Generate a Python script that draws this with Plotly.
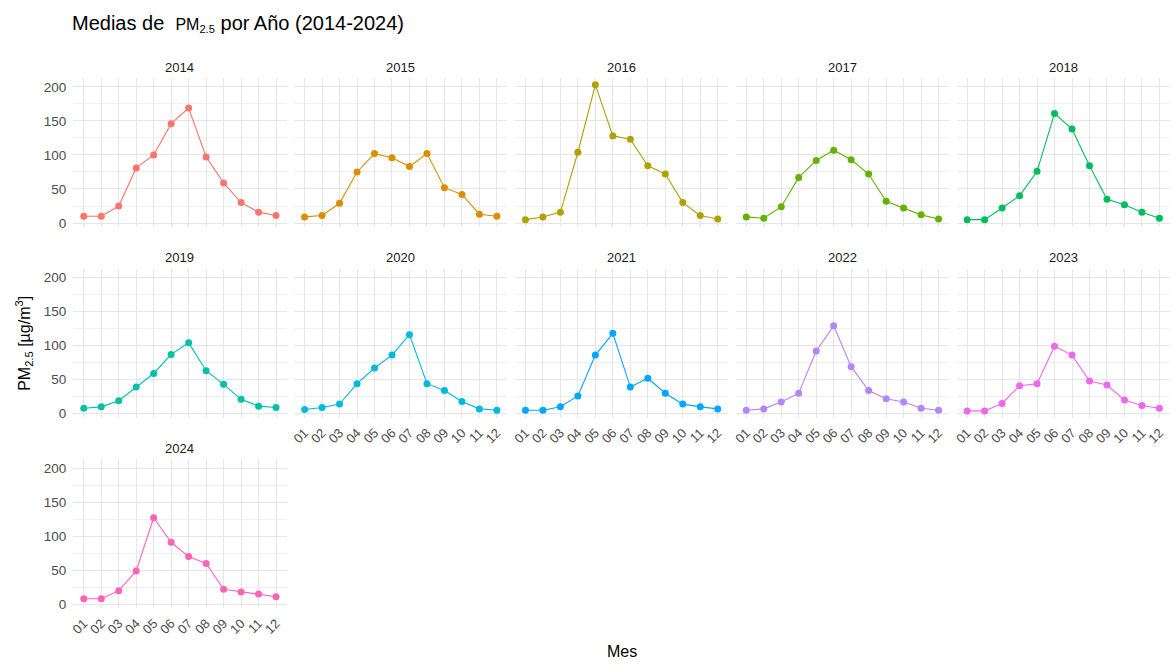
import plotly.graph_objects as go

years = ["2014", "2015", "2016", "2017", "2018", "2019", "2020", "2021", "2022", "2023", "2024"]
months = [1, 2, 3, 4, 5, 6, 7, 8, 9, 10, 11, 12]
month_labels = ["01", "02", "03", "04", "05", "06", "07", "08", "09", "10", "11", "12"]

pm_2014 = [10, 10, 25, 81, 100, 146, 169, 97, 59, 30, 16, 11]
pm_2015 = [9, 11, 29, 75, 102, 96, 83, 102, 52, 42, 13, 10]
pm_2016 = [5, 9, 16, 104, 203, 128, 123, 84, 72, 30, 11, 6]
pm_2017 = [9, 7, 24, 67, 92, 107, 93, 72, 32, 22, 12, 6]
pm_2018 = [5, 5, 22, 40, 76, 161, 138, 84, 35, 27, 16, 7]
pm_2019 = [8, 10, 19, 39, 59, 87, 104, 63, 43, 21, 11, 9]
pm_2020 = [6, 9, 14, 44, 67, 86, 116, 44, 34, 18, 7, 5]
pm_2021 = [5, 5, 10, 26, 86, 118, 39, 52, 30, 14, 10, 7]
pm_2022 = [5, 7, 17, 30, 92, 129, 69, 34, 22, 17, 8, 5]
pm_2023 = [4, 4, 15, 41, 44, 99, 86, 48, 42, 20, 12, 8]
pm_2024 = [8, 8, 20, 49, 127, 91, 70, 60, 22, 18, 15, 11]

series = [pm_2014, pm_2015, pm_2016, pm_2017, pm_2018, pm_2019,
          pm_2020, pm_2021, pm_2022, pm_2023, pm_2024]
colors = ["#F8766D", "#DB8E00", "#AEA200", "#64B200", "#00BD5C", "#00C1A7",
          "#00BADE", "#00A6FF", "#B385FF", "#EF67EB", "#FF63B6"]

W, H = 1172, 666
FONT = "Arial, Liberation Sans, sans-serif"

fig = go.Figure()
layout = dict(
    width=W, height=H, margin=dict(l=0, r=0, t=0, b=0),
    paper_bgcolor="white", plot_bgcolor="white", showlegend=False,
    font=dict(family=FONT, color="#4D4D4D"),
)
annotations = []

col_left0, col_step, panel_w = 69.5, 221.6, 214.0
row_top0, row_step, panel_h = 78.5, 191.75, 150.0

for i, (yr, vals, col) in enumerate(zip(years, series, colors)):
    r, c = divmod(i, 5)
    left = col_left0 + c * col_step
    top = row_top0 + r * row_step
    xd = [left / W, (left + panel_w) / W]
    yd = [1 - (top + panel_h) / H, 1 - top / H]
    n = "" if i == 0 else str(i + 1)
    show_x = (r == 2) or (r == 1 and c >= 1)
    show_y = (c == 0)
    layout["xaxis" + n] = dict(
        domain=xd, anchor="y" + n, range=[0.4, 12.6],
        tickmode="array", tickvals=months, ticktext=month_labels,
        showticklabels=show_x, tickangle=-45, ticks="",
        ticklabelstandoff=4,
        tickfont=dict(size=13, color="#4D4D4D", family=FONT),
        showgrid=True, gridcolor="#E6E6E6", gridwidth=1,
        zeroline=False, showline=False,
    )
    layout["yaxis" + n] = dict(
        domain=yd, anchor="x" + n, range=[-6, 213],
        tickmode="array", tickvals=[0, 50, 100, 150, 200],
        showticklabels=show_y, ticks="",
        ticklabelstandoff=6,
        tickfont=dict(size=13.5, color="#4D4D4D", family=FONT),
        showgrid=True, gridcolor="#E6E6E6", gridwidth=1,
        minor=dict(tickvals=[25, 75, 125, 175], showgrid=True,
                   gridcolor="#F0F0F0", gridwidth=0.7),
        zeroline=False, showline=False,
    )
    fig.add_trace(go.Scatter(
        x=months, y=vals, mode="lines+markers",
        line=dict(color=col, width=1.1),
        marker=dict(color=col, size=7),
        xaxis="x" + n, yaxis="y" + n, name=yr,
    ))
    annotations.append(dict(
        text=yr, x=(left + panel_w / 2) / W, y=1 - (top - 11) / H,
        xref="paper", yref="paper", showarrow=False,
        xanchor="center", yanchor="middle",
        font=dict(size=13, color="#1A1A1A", family=FONT),
    ))

annotations.append(dict(
    text="Medias de  <span style='font-size:16px'>PM<sub>2.5</sub></span> por Año (2014-2024)",
    x=66 / W, y=1 - 24 / H, xref="paper", yref="paper", showarrow=False,
    xanchor="left", yanchor="middle",
    font=dict(size=20, color="#000000", family=FONT),
))
annotations.append(dict(
    text="PM<sub>2.5</sub> [µg/m<sup>3</sup>]",
    x=20 / W, y=1 - 345 / H, xref="paper", yref="paper", showarrow=False,
    xanchor="center", yanchor="middle", textangle=-90,
    font=dict(size=16, color="#000000", family=FONT),
))
annotations.append(dict(
    text="Mes", x=620 / W, y=1 - 655 / H, xref="paper", yref="paper",
    showarrow=False, xanchor="center", yanchor="middle",
    font=dict(size=16, color="#000000", family=FONT),
))
layout["annotations"] = annotations
fig.update_layout(**layout)
fig.write_html("out.html")
